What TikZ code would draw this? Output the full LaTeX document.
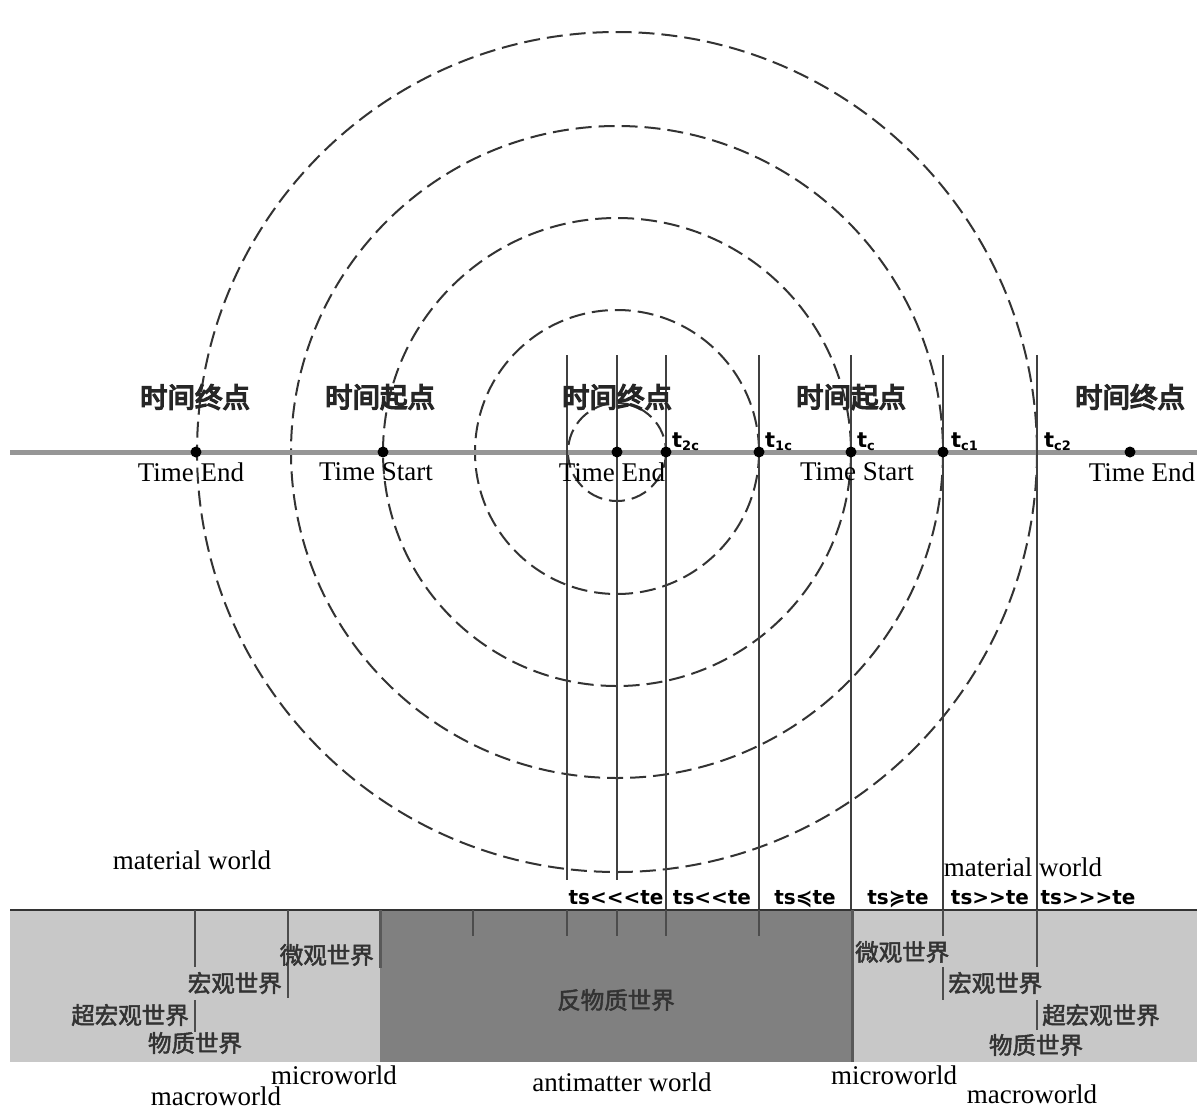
\documentclass[tikz,border=0pt]{standalone}
\usepackage{fontspec}
\setmainfont{Liberation Serif}
\newfontfamily\cjk{Noto Sans CJK SC}
\newfontfamily\dv{DejaVu Sans}
\newcommand{\heavytxt}[2]{\special{pdf:literal direct 2 Tr #1 w}#2\special{pdf:literal direct 0 Tr}}
\definecolor{lightbox}{RGB}{200,200,200}
\definecolor{darkbox}{RGB}{128,128,128}
\definecolor{axisgray}{RGB}{150,150,150}
\begin{document}
\begin{tikzpicture}[x=1pt,y=-1pt,
  en/.style={font=\fontsize{27}{30}\selectfont, inner sep=0pt},
  zhtop/.style={font=\cjk\fontsize{27.5}{30}\selectfont, text=black!85, inner sep=0pt},
  zhbot/.style={font=\cjk\fontsize{23.5}{25}\selectfont, text=black!80, inner sep=0pt},
  tslab/.style={font=\dv\bfseries\fontsize{20}{22}\selectfont, inner sep=0pt, anchor=base},
  tlab/.style={font=\dv\bfseries\fontsize{21}{22}\selectfont, inner sep=0pt, anchor=base west},
  ring/.style={draw=black!80, line width=2pt, dash pattern=on 16pt off 7pt},
  vline/.style={draw=black!75, line width=1.6pt},
  boxline/.style={draw=black!70, line width=1.8pt},
  dot/.style={circle, fill=black, inner sep=0pt, minimum size=11pt},
]
\useasboundingbox (0,0) rectangle (1197,1109);
\fill[white] (0,0) rectangle (1197,1109);

% bottom boxes
\fill[lightbox] (10,910) rectangle (380,1062);
\fill[darkbox] (380,910) rectangle (852,1062);
\fill[lightbox] (852,910) rectangle (1197,1062);

% circles
\coordinate (c) at (617,452);
\foreach \r in {49,142,234,326,420} \draw[ring] (c) circle[radius=\r];

% axis
\coordinate (axL) at (10,452);
\coordinate (axR) at (1197,452);
\draw[axisgray, line width=5pt] (axL) -- (axR);

% vertical lines
\foreach \n/\x/\yb in {a/567/880, b/617/880, c2/666/910, d/759/910, e/851/910, f/943/910, g/1037/910} {
  \coordinate (vt\n) at (\x,355);
  \coordinate (vb\n) at (\x,\yb);
  \draw[vline] (vt\n) -- (vb\n);
}

% box top border
\coordinate (bL) at (10,910);
\coordinate (bR) at (1197,910);
\draw[draw=black!80, line width=2pt] (bL) -- (bR);

% ticks in dark box
\foreach \x in {473,567,617,666,759} \draw[boxline] (\x,910) -- (\x,936);
% left light box lines
\draw[boxline] (195,910) -- (195,967);
\draw[boxline] (195,1000) -- (195,1032);
\draw[boxline] (288,910) -- (288,998);
\draw[draw=black!65, line width=3pt] (380,910) -- (380,968);
% right light box lines
\draw[draw=black!65, line width=3pt] (852,910) -- (852,1062);
\draw[boxline] (943,910) -- (943,936);
\draw[boxline] (943,967) -- (943,1000);
\draw[boxline] (1037,910) -- (1037,967);
\draw[boxline] (1037,1000) -- (1037,1030);

% dots
\foreach \n/\x in {p1/196, p2/383, p3/617, p4/666, p5/759, p6/851, p7/943, p8/1130}
  \node[dot] (\n) at (\x,452) {};

% top Chinese labels
\node[zhtop] (z1) at (195,397) {\heavytxt{1.4}{时间终点}};
\node[zhtop] (z2) at (380,397) {\heavytxt{1.4}{时间起点}};
\node[zhtop] (z3) at (617,397) {\heavytxt{1.4}{时间终点}};
\node[zhtop] (z4) at (851,397) {\heavytxt{1.4}{时间起点}};
\node[zhtop] (z5) at (1130,397) {\heavytxt{1.4}{时间终点}};

% t labels
\node[tlab] (t2c) at (672,447) {t\raisebox{-3pt}{\fontsize{13}{13}\selectfont 2c}};
\node[tlab] (t1c) at (765,447) {t\raisebox{-3pt}{\fontsize{13}{13}\selectfont 1c}};
\node[tlab] (tc) at (857,447) {t\raisebox{-3pt}{\fontsize{13}{13}\selectfont c}};
\node[tlab] (tc1) at (951,447) {t\raisebox{-3pt}{\fontsize{13}{13}\selectfont c1}};
\node[tlab] (tc2) at (1044,447) {t\raisebox{-3pt}{\fontsize{13}{13}\selectfont c2}};

% English axis labels
\node[en] (e1) at (191,472) {Time End};
\node[en] (e2) at (376,472) {Time Start};
\node[en] (e3) at (612,472) {Time End};
\node[en] (e4) at (857,472) {Time Start};
\node[en] (e5) at (1142,472) {Time End};

% material world
\node[en] (m1) at (192,860) {material world};
\node[en] (m2) at (1023,867) {material world};

% ts labels
\node[tslab] (s1) at (616,904) {ts<<<te};
\node[tslab] (s2) at (712,904) {ts<<te};
\node[tslab] (s3) at (805,904) {ts≼te};
\node[tslab] (s4) at (898,904) {ts≽te};
\node[tslab] (s5) at (990,904) {ts>>te};
\node[tslab] (s6) at (1088,904) {ts>>>te};

% bottom Chinese labels
\node[zhbot, anchor=east] (l1) at (374,955) {\heavytxt{0.5}{微观世界}};
\node[zhbot, anchor=east] (l2) at (282,983) {\heavytxt{0.5}{宏观世界}};
\node[zhbot, anchor=east] (l3) at (189,1015) {\heavytxt{0.5}{超宏观世界}};
\node[zhbot] (l4) at (195,1043) {\heavytxt{0.5}{物质世界}};
\node[zhbot] (am) at (616,1000) {\heavytxt{0.5}{反物质世界}};
\node[zhbot, anchor=west] (r1) at (855,952) {\heavytxt{0.5}{微观世界}};
\node[zhbot, anchor=west] (r2) at (948,983) {\heavytxt{0.5}{宏观世界}};
\node[zhbot, anchor=west] (r3) at (1042,1015) {\heavytxt{0.5}{超宏观世界}};
\node[zhbot] (r4) at (1036,1045) {\heavytxt{0.5}{物质世界}};

% bottom English labels
\node[en] (mi1) at (334,1075) {microworld};
\node[en] (ma1) at (216,1096) {macroworld};
\node[en] (aw) at (622,1082) {antimatter world};
\node[en] (mi2) at (894,1075) {microworld};
\node[en] (ma2) at (1032,1094) {macroworld};
\end{tikzpicture}
\end{document}
